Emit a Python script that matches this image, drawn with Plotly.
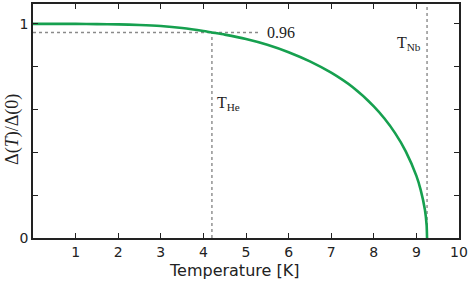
import plotly.graph_objects as go

# Data
temperature_K = [0.0, 0.5, 1.0, 1.5, 2.0, 2.5, 3.0, 3.5, 4.0, 4.2, 4.5, 5.0, 5.5, 6.0, 6.5, 7.0,
                 7.5, 8.0, 8.25, 8.5, 8.75, 9.0, 9.1, 9.2, 9.24, 9.25]
gap_ratio = [1.0, 1.0, 1.0, 0.999, 0.998, 0.995, 0.99, 0.981, 0.967, 0.96, 0.95, 0.93, 0.903,
             0.868, 0.825, 0.772, 0.705, 0.615, 0.558, 0.49, 0.405, 0.29, 0.225, 0.132, 0.06, 0.0]
T_He = 4.2
T_Nb = 9.25
gap_at_He = 0.96
x_ticks = [1, 2, 3, 4, 5, 6, 7, 8, 9, 10]
y_ticks = [0, 1]
y_ticklabels = ["0", "1"]

green = "#16a04f"
dot_color = "#8a8a8a"
serif = "Liberation Serif"
sans = "DejaVu Sans"

fig = go.Figure()
fig.add_trace(go.Scatter(x=[0, 5.35], y=[gap_at_He, gap_at_He], mode="lines",
                         line=dict(color=dot_color, width=1.4, dash="dot"), hoverinfo="skip"))
fig.add_trace(go.Scatter(x=[T_He, T_He], y=[0, gap_at_He], mode="lines",
                         line=dict(color=dot_color, width=1.4, dash="dot"), hoverinfo="skip"))
fig.add_trace(go.Scatter(x=[T_Nb, T_Nb], y=[0, 1.1], mode="lines",
                         line=dict(color=dot_color, width=1.4, dash="dot"), hoverinfo="skip"))
fig.add_trace(go.Scatter(x=temperature_K, y=gap_ratio, mode="lines",
                         line=dict(color=green, width=2.6, shape="spline", smoothing=0.6)))

fig.add_annotation(x=5.45, y=gap_at_He, text="0.96", showarrow=False, xanchor="left",
                   yanchor="middle", font=dict(family=serif, size=16, color="#222"))
fig.add_annotation(x=4.28, y=0.63, text="T<sub>He</sub>", showarrow=False, xanchor="left",
                   yanchor="middle", font=dict(family=serif, size=16, color="#222"))
fig.add_annotation(x=8.5, y=0.91, text="T<sub>Nb</sub>", showarrow=False, xanchor="left",
                   yanchor="middle", font=dict(family=serif, size=16, color="#222"))
fig.add_annotation(xref="paper", yref="paper", x=-0.047, y=0.466, text="Δ(<i>T</i>)/Δ(0)",
                   textangle=-90, showarrow=False, xanchor="center", yanchor="middle",
                   font=dict(family=serif, size=18, color="#222"))
fig.add_annotation(xref="paper", yref="paper", x=0.472, y=-0.137, text="Temperature [K]",
                   showarrow=False, xanchor="center", yanchor="middle",
                   font=dict(family=sans, size=16, color="#222"))

axis_common = dict(showline=True, linecolor="#222", linewidth=1.5, mirror="ticks",
                   ticks="inside", ticklen=5, tickcolor="#222", tickwidth=1,
                   showgrid=False, zeroline=False, automargin=False)
fig.update_xaxes(range=[0, 10], tickvals=x_ticks, ticktext=[str(v) for v in x_ticks],
                 tickfont=dict(family=sans, size=14, color="#222"), **axis_common)
fig.update_yaxes(range=[0, 1.093], tickvals=y_ticks, ticktext=y_ticklabels,
                 minor=dict(dtick=0.2, tick0=0, ticks="inside", ticklen=5, tickcolor="#222",
                            tickwidth=1, showgrid=False),
                 tickfont=dict(family=sans, size=14, color="#222"), **axis_common)
fig.update_layout(width=468, height=285, margin=dict(l=33, r=9, t=4, b=47),
                  plot_bgcolor="white", paper_bgcolor="white", showlegend=False)
fig.write_html("out.html", config={"displayModeBar": False},
               post_script="document.body.style.margin='0';")
